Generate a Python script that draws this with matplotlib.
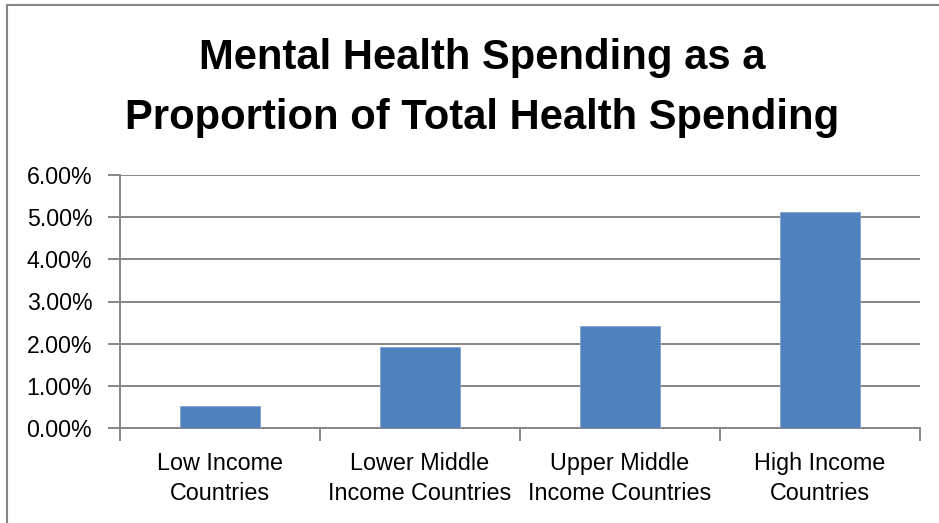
import matplotlib
matplotlib.use('Agg')
import matplotlib.pyplot as plt
from matplotlib.patches import Rectangle
from matplotlib.ticker import FuncFormatter, MultipleLocator

categories = ["Low Income\nCountries", "Lower Middle\nIncome Countries",
              "Upper Middle\nIncome Countries", "High Income\nCountries"]
share = [0.52, 1.93, 2.41, 5.12]  # percent of total health spending

plt.rcParams['font.family'] = ['Liberation Sans', 'DejaVu Sans']

W, H = 939, 523
fig = plt.figure(figsize=(W / 100, H / 100), dpi=100)
ax = fig.add_axes([120 / W, 1 - 428 / H, 800 / W, 253 / H])

grey = '#868686'
x = range(len(categories))
ax.bar(x, share, width=0.4, color='#4F81BD', edgecolor='#7FA3D1', linewidth=0.6, zorder=3)

ax.set_xlim(-0.5, len(categories) - 0.5)
ax.set_ylim(0, 6)
ax.yaxis.set_major_locator(MultipleLocator(1))
ax.yaxis.set_major_formatter(FuncFormatter(lambda v, p: f"{v:.2f}%"))
ax.grid(True, axis='y', color=grey, linewidth=1.4, zorder=0)

# category labels between boundary ticks (Excel style)
ax.set_xticks([i - 0.5 for i in range(len(categories) + 1)])
ax.set_xticklabels([])
ax.set_xticks(list(x), minor=True)
ax.set_xticklabels(categories, minor=True, fontsize=16.8, linespacing=1.43)
ax.tick_params(axis='x', which='minor', length=0, pad=17)
ax.tick_params(axis='x', which='major', length=9, width=1.4, color=grey)
ax.tick_params(axis='y', length=9, width=1.4, color=grey, labelsize=16.7, pad=11)

for s in ['top', 'right']:
    ax.spines[s].set_visible(False)
for s in ['left', 'bottom']:
    ax.spines[s].set_color(grey)
    ax.spines[s].set_linewidth(1.4)

fig.text(482 / W, 1 - 88 / H, "Mental Health Spending as a\nProportion of Total Health Spending",
         ha='center', va='center', fontsize=30.1, fontweight='bold', linespacing=1.66)

# chart frame
fig.patches.append(Rectangle((7 / W, -0.1), 1.1, (523 - 5) / H + 0.1,
                             transform=fig.transFigure, fill=False,
                             edgecolor=grey, linewidth=1.5, clip_on=False))

fig.savefig("out.png", dpi=100)
